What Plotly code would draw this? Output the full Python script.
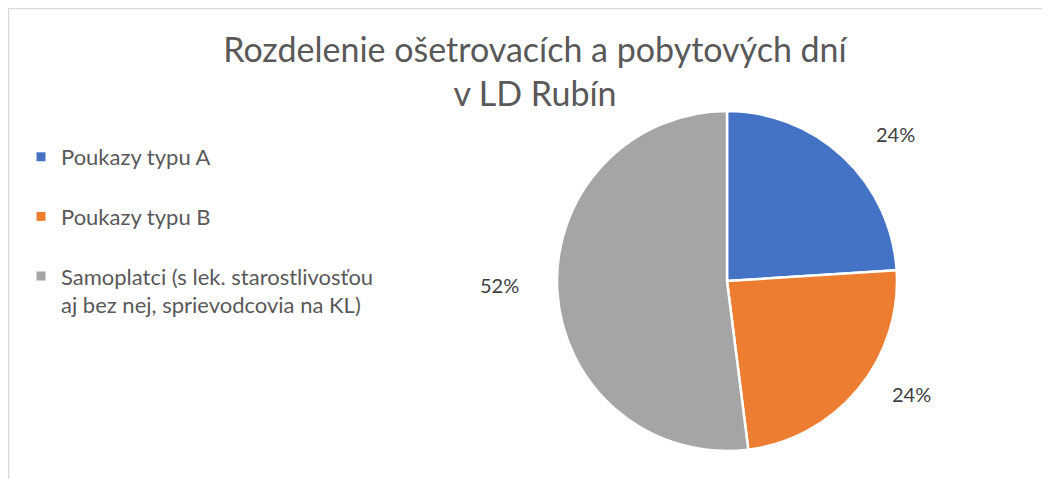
import math
import plotly.graph_objects as go

categories = ["Poukazy typu A", "Poukazy typu B",
              "Samoplatci (s lek. starostlivosťou<br>aj bez nej, sprievodcovia na KL)"]
values = [24, 24, 52]
colors = ["#4472C4", "#ED7D31", "#A5A5A5"]
title_text = "Rozdelenie ošetrovacích a pobytových dní<br>v LD Rubín"

W, H = 1050, 479
OFF = 8  # page body margin offset
FONT = "Lato"


def px_x(p):
    return (p - OFF) / W


def px_y(p):
    return 1 - (p - OFF) / H


# pie geometry (page pixels)
cx, cy, r = 727, 281, 170
dom_x = [px_x(cx - r), px_x(cx + r)]
dom_y = [px_y(cy + r), px_y(cy - r)]

fig = go.Figure()
fig.add_trace(go.Pie(
    labels=categories, values=values, sort=False, direction="clockwise",
    rotation=0, marker=dict(colors=colors, line=dict(color="white", width=2.5)),
    textinfo="none", hoverinfo="label+percent", showlegend=False,
    domain=dict(x=dom_x, y=dom_y),
))

# legend via dummy traces (to control gaps)
for i, (lab, col) in enumerate(zip(categories, colors)):
    fig.add_trace(go.Scatter(
        x=[None], y=[None], mode="markers", name=lab,
        marker=dict(symbol="square", size=9, color=col),
        legendgroup=f"g{i}", showlegend=True,
    ))

# percentage labels positioned outside pie (best-fit style)
total = sum(values)
cum = 0
label_r = r + 20
for v in values:
    mid = (cum + v / 2) / total * 2 * math.pi
    cum += v
    s, c = math.sin(mid), math.cos(mid)
    lx = cx + label_r * s + 38 * (1 if s >= 0 else -1)
    ly = cy - label_r * c - 8
    fig.add_annotation(
        x=px_x(lx), y=px_y(ly), xref="paper", yref="paper",
        xanchor="center", yanchor="middle",
        text=f"{round(v / total * 100)}%", showarrow=False,
        font=dict(family=FONT, size=20, color="#404040"),
    )

fig.add_shape(type="rect", xref="paper", yref="paper",
              x0=px_x(8.5), x1=1.05, y0=-0.05, y1=px_y(8.5),
              line=dict(color="#D9D9D9", width=1.5), fillcolor="rgba(0,0,0,0)")

fig.update_layout(
    width=W, height=H,
    margin=dict(l=0, r=0, t=0, b=0),
    paper_bgcolor="white", plot_bgcolor="white",
    title=dict(text=title_text, x=px_x(535), xanchor="center",
               y=px_y(62), yanchor="top",
               font=dict(family=FONT, size=34, color="#595959")),
    xaxis=dict(visible=False), yaxis=dict(visible=False),
    legend=dict(x=px_x(21), y=px_y(136), xanchor="left", yanchor="top",
                font=dict(family=FONT, size=22, color="#595959"),
                tracegroupgap=28, valign="top", bgcolor="rgba(0,0,0,0)"),
)

fig.write_html("out.html")
